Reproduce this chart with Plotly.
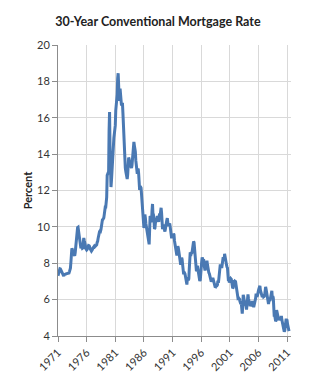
import plotly.graph_objects as go
import pandas as pd

# Monthly 30-year conventional mortgage rate (%), April 1971 - August 2011
rates_1971 = [7.31, 7.43, 7.53, 7.60, 7.70, 7.69, 7.63, 7.55, 7.48]  # Apr-Dec
rates_1972 = [7.44, 7.32, 7.29, 7.29, 7.37, 7.37, 7.40, 7.40, 7.42, 7.43, 7.44, 7.44]
rates_1973 = [7.44, 7.44, 7.46, 7.54, 7.65, 7.73, 8.05, 8.50, 8.82, 8.77, 8.58, 8.54]
rates_1974 = [8.54, 8.46, 8.41, 8.58, 8.97, 9.09, 9.28, 9.59, 9.96, 9.98, 9.79, 9.62]
rates_1975 = [9.43, 9.10, 8.89, 8.82, 8.91, 8.89, 8.82, 8.84, 9.16, 9.39, 9.25, 9.18]
rates_1976 = [9.02, 8.81, 8.76, 8.73, 8.76, 8.85, 8.93, 8.98, 8.97, 8.93, 8.81, 8.79]
rates_1977 = [8.72, 8.67, 8.69, 8.75, 8.83, 8.86, 8.94, 8.94, 8.90, 8.92, 8.92, 8.96]
rates_1978 = [9.01, 9.15, 9.20, 9.36, 9.57, 9.71, 9.74, 9.78, 9.76, 9.86, 10.11, 10.35]
rates_1979 = [10.39, 10.41, 10.43, 10.50, 10.69, 11.04, 11.09, 11.09, 11.30, 11.64, 12.83, 12.90]
rates_1980 = [12.88, 13.04, 15.28, 16.32, 14.26, 12.71, 12.19, 12.56, 13.20, 13.79, 14.21, 14.79]
rates_1981 = [14.90, 15.13, 15.40, 15.58, 16.40, 16.70, 16.83, 17.29, 18.16, 18.45, 17.83, 16.92]
rates_1982 = [17.40, 17.60, 17.16, 16.89, 16.68, 16.70, 16.82, 16.27, 15.43, 14.61, 13.83, 13.62]
rates_1983 = [13.25, 13.04, 12.80, 12.78, 12.63, 12.87, 13.42, 13.81, 13.73, 13.54, 13.44, 13.42]
rates_1984 = [13.37, 13.23, 13.39, 13.65, 13.94, 14.42, 14.67, 14.47, 14.35, 14.13, 13.64, 13.18]
rates_1985 = [13.08, 12.92, 13.17, 13.20, 12.91, 12.22, 12.03, 12.19, 12.19, 12.14, 11.78, 11.26]
rates_1986 = [10.88, 10.71, 10.08, 9.94, 10.14, 10.68, 10.51, 10.20, 10.01, 9.97, 9.70, 9.31]
rates_1987 = [9.20, 9.08, 9.04, 9.83, 10.60, 10.54, 10.28, 10.33, 10.89, 11.26, 10.65, 10.65]
rates_1988 = [10.43, 9.89, 9.93, 10.20, 10.46, 10.46, 10.43, 10.60, 10.48, 10.30, 10.27, 10.61]
rates_1989 = [10.73, 10.65, 11.03, 11.05, 10.77, 10.20, 9.88, 9.99, 10.13, 9.95, 9.77, 9.74]
rates_1990 = [9.90, 10.20, 10.27, 10.37, 10.48, 10.16, 10.04, 10.10, 10.18, 10.18, 10.01, 9.67]
rates_1991 = [9.64, 9.37, 9.50, 9.49, 9.47, 9.62, 9.58, 9.24, 9.01, 8.86, 8.71, 8.50]
rates_1992 = [8.43, 8.76, 8.94, 8.85, 8.67, 8.51, 8.13, 7.98, 7.92, 8.09, 8.31, 8.22]
rates_1993 = [7.92, 7.50, 7.46, 7.46, 7.47, 7.42, 7.21, 7.11, 6.92, 6.83, 7.16, 7.17]
rates_1994 = [7.06, 7.15, 7.68, 8.32, 8.60, 8.40, 8.61, 8.51, 8.64, 8.93, 9.17, 9.20]
rates_1995 = [9.15, 8.83, 8.46, 8.32, 7.96, 7.57, 7.61, 7.86, 7.64, 7.48, 7.38, 7.20]
rates_1996 = [7.03, 7.08, 7.62, 7.93, 8.07, 8.32, 8.25, 8.00, 8.23, 7.92, 7.62, 7.60]
rates_1997 = [7.82, 7.65, 7.90, 8.14, 7.94, 7.69, 7.50, 7.48, 7.43, 7.29, 7.21, 7.10]
rates_1998 = [6.99, 7.04, 7.13, 7.14, 7.14, 7.00, 6.95, 6.92, 6.72, 6.71, 6.87, 6.72]
rates_1999 = [6.79, 6.81, 7.04, 6.92, 7.15, 7.55, 7.63, 7.94, 7.82, 7.85, 7.74, 7.91]
rates_2000 = [8.21, 8.33, 8.24, 8.15, 8.52, 8.29, 8.15, 8.03, 7.91, 7.80, 7.75, 7.38]
rates_2001 = [7.03, 7.05, 6.95, 7.08, 7.15, 7.16, 7.13, 6.95, 6.82, 6.62, 6.66, 7.07]
rates_2002 = [7.00, 6.89, 7.01, 6.99, 6.81, 6.65, 6.49, 6.29, 6.09, 6.11, 6.07, 6.05]
rates_2003 = [5.92, 5.84, 5.75, 5.81, 5.48, 5.23, 5.63, 6.26, 6.15, 5.95, 5.93, 5.88]
rates_2004 = [5.71, 5.64, 5.45, 5.83, 6.27, 6.29, 6.06, 5.87, 5.75, 5.72, 5.73, 5.75]
rates_2005 = [5.71, 5.63, 5.93, 5.86, 5.72, 5.58, 5.70, 5.82, 5.77, 6.07, 6.33, 6.27]
rates_2006 = [6.15, 6.25, 6.32, 6.51, 6.60, 6.68, 6.76, 6.52, 6.40, 6.36, 6.24, 6.14]
rates_2007 = [6.22, 6.29, 6.16, 6.18, 6.26, 6.66, 6.70, 6.57, 6.38, 6.38, 6.21, 6.10]
rates_2008 = [5.76, 5.92, 5.97, 5.92, 6.04, 6.32, 6.43, 6.48, 6.04, 6.20, 6.09, 5.33]
rates_2009 = [5.06, 5.13, 5.00, 4.81, 4.86, 5.42, 5.22, 5.19, 5.06, 4.95, 4.88, 4.93]
rates_2010 = [5.03, 4.99, 4.97, 5.10, 4.89, 4.74, 4.56, 4.43, 4.35, 4.23, 4.30, 4.71]
rates_2011 = [4.76, 4.95, 4.84, 4.84, 4.64, 4.51, 4.55, 4.27]  # Jan-Aug

tick_labels = ["1971", "1976", "1981", "1986", "1991", "1996", "2001", "2006", "2011"]
y_ticks = [4, 6, 8, 10, 12, 14, 16, 18, 20]

rates = (rates_1971 + rates_1972 + rates_1973 + rates_1974 + rates_1975 + rates_1976
         + rates_1977 + rates_1978 + rates_1979 + rates_1980 + rates_1981 + rates_1982
         + rates_1983 + rates_1984 + rates_1985 + rates_1986 + rates_1987 + rates_1988
         + rates_1989 + rates_1990 + rates_1991 + rates_1992 + rates_1993 + rates_1994
         + rates_1995 + rates_1996 + rates_1997 + rates_1998 + rates_1999 + rates_2000
         + rates_2001 + rates_2002 + rates_2003 + rates_2004 + rates_2005 + rates_2006
         + rates_2007 + rates_2008 + rates_2009 + rates_2010 + rates_2011)
dates = pd.date_range("1971-04-01", periods=len(rates), freq="MS")

fig = go.Figure()
fig.add_trace(go.Scatter(x=dates, y=rates, mode="lines",
                         line=dict(color="#4A79B3", width=3), hoverinfo="skip"))

fig.update_layout(
    width=316, height=385,
    margin=dict(l=58, r=25, t=45, b=45),
    paper_bgcolor="white", plot_bgcolor="white",
    showlegend=False,
    title=dict(text="<b>30-Year Conventional Mortgage Rate</b>",
               x=0.5, xanchor="center", y=0.945, yanchor="middle",
               font=dict(family="Lato", size=12.5, color="#222222")),
    font=dict(family="Lato", size=11, color="#333333"),
)
fig.update_xaxes(
    type="date",
    range=["1971-04-01", "2011-12-05"],
    tickvals=[f"{y}-04-01" for y in tick_labels],
    ticktext=tick_labels,
    tickangle=-45,
    showgrid=True, gridcolor="#D9D9D9", gridwidth=1,
    showline=True, linecolor="#8C8C8C", linewidth=1,
    ticks="outside", ticklen=5, tickcolor="#8C8C8C",
    tickfont=dict(size=11, color="#333333"),
    zeroline=False,
)
fig.update_yaxes(
    range=[4, 20],
    tickvals=y_ticks,
    showgrid=True, gridcolor="#D9D9D9", gridwidth=1,
    showline=True, linecolor="#8C8C8C", linewidth=1,
    ticks="outside", ticklen=5, tickcolor="#8C8C8C",
    tickfont=dict(size=11, color="#333333"),
    title=dict(text="<b>Percent</b>", font=dict(size=11, color="#222222"), standoff=2),
    zeroline=False,
)

fig.write_html("out.html")
